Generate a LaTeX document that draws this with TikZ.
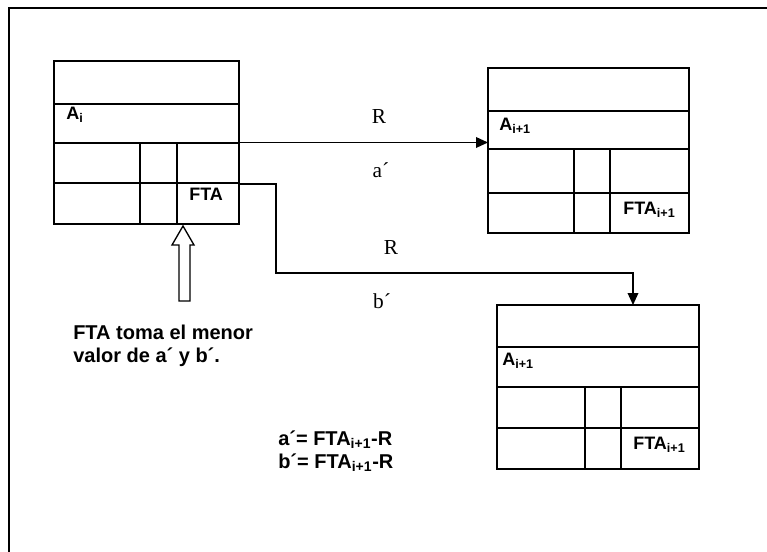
\documentclass[tikz,border=0pt]{standalone}
\usepackage{fontspec}
\setmainfont{Liberation Serif}
\setsansfont{Liberation Sans}
\usetikzlibrary{arrows.meta}

\begin{document}
\begin{tikzpicture}[x=0.75pt, y=-0.75pt, >={Triangle[length=9pt,width=8pt]},
  recbox/.style={draw, line width=1.1pt, inner sep=0pt, outer sep=0pt, anchor=north west},
  cell/.style={line width=1.1pt},
  flow/.style={->, line width=1pt},
  boxlabel/.style={anchor=west, inner sep=0pt, font=\sffamily\bfseries\fontsize{13.5}{15}\selectfont},
  note/.style={anchor=base west, inner sep=0pt, font=\sffamily\bfseries\fontsize{15}{17}\selectfont},
  rlabel/.style={anchor=base, inner sep=0pt, font=\fontsize{16}{18}\selectfont}]
  \useasboundingbox (0,0) rectangle (767,552);
  % page frame
  \draw[line width=1.4pt] (9,552) -- (9,8) -- (767,8);
  % record i
  \node[recbox, minimum width=138.75pt, minimum height=122.25pt] (b1) at (54,61) {};
  \draw[cell] (54,104) -- (239,104);
  \draw[cell] (54,143) -- (239,143);
  \draw[cell] (54,183) -- (239,183);
  \draw[cell] (140,143) -- (140,224);
  \draw[cell] (177,143) -- (177,224);
  \node[boxlabel] (ai) at (66,115) {A\textsubscript{i}};
  \node[boxlabel] (fta) at (189,194) {FTA};
  % record i+1 (upper)
  \node[recbox, minimum width=150.75pt, minimum height=123.75pt] (b2) at (488,68) {};
  \draw[cell] (488,111) -- (689,111);
  \draw[cell] (488,149) -- (689,149);
  \draw[cell] (488,193) -- (689,193);
  \draw[cell] (574,149) -- (574,233);
  \draw[cell] (610,149) -- (610,233);
  \node[boxlabel] (aup) at (499,126) {A\textsubscript{i+1}};
  \node[boxlabel] (ftaup) at (623,210) {FTA\textsubscript{i+1}};
  % record i+1 (lower)
  \node[recbox, minimum width=151.5pt, minimum height=123pt] (b3) at (497,305) {};
  \draw[cell] (497,347) -- (699,347);
  \draw[cell] (497,387) -- (699,387);
  \draw[cell] (497,428) -- (699,428);
  \draw[cell] (585,387) -- (585,469);
  \draw[cell] (621,387) -- (621,469);
  \node[boxlabel] (alow) at (502,361) {A\textsubscript{i+1}};
  \node[boxlabel] (ftalow) at (633,445) {FTA\textsubscript{i+1}};
  % links
  \coordinate (ftaout) at (239,184);
  \coordinate (bend) at (633,273);
  \draw[flow] (b1.east) -- (b1.east -| b2.west);
  \draw[flow] (ftaout) -| (276,273) -- (bend) -- (bend |- b3.north);
  \node[rlabel] (rup) at (379,124) {R};
  \node[rlabel] (aprime) at (381,178) {a´};
  \node[rlabel] (rlow) at (391,255) {R};
  \node[rlabel] (bprime) at (382,308) {b´};
  % hollow pointer to FTA
  \draw[line width=1pt, fill=white] (183,226) -- (194,245) -- (190,245) -- (190,301)
       -- (179,301) -- (179,245) -- (172,245) -- cycle;
  % notes
  \node[note] (capa) at (73,339) {FTA toma el menor};
  \node[note] (capb) at (73,362) {valor de a´ y b´.};
  \node[note] (eqa) at (278,445) {a´= FTA\textsubscript{i+1}-R};
  \node[note] (eqb) at (278,468) {b´= FTA\textsubscript{i+1}-R};
\end{tikzpicture}
\end{document}
